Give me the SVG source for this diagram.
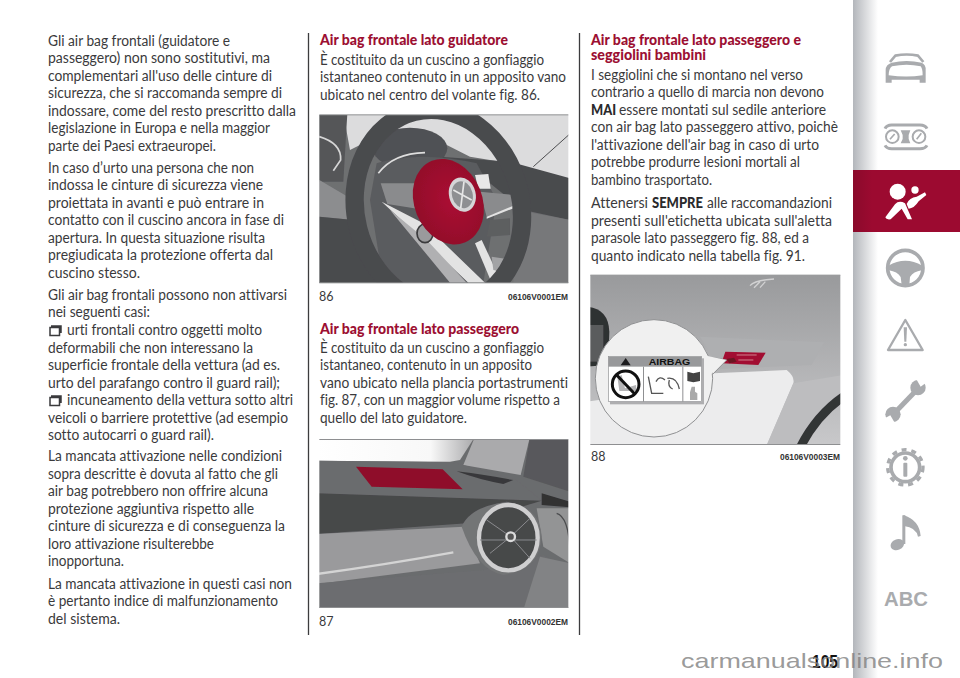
<svg xmlns="http://www.w3.org/2000/svg" width="960" height="678" viewBox="0 0 960 678">
<style>
text{font-family:"Lato","Open Sans","Noto Sans",sans-serif;font-variant-ligatures:none}
.b{font-size:15.5px;fill:#3a3a3c}
.h{font-size:15.5px;font-weight:900;fill:#9c0f32}
.m{font-size:15.5px;font-weight:900;fill:#2a2a2c}
.cap{font-size:12.5px;fill:#3a3a3c}
.code{font-family:"Liberation Sans",sans-serif;font-size:8.5px;font-weight:700;fill:#333}
.sep{stroke:#3c3c3e;stroke-width:1.3}
.ic{fill:#a9abae}
.is{fill:none;stroke:#a9abae}
.chk{fill:none;stroke:#3a3a3c;stroke-width:1.5}
</style>
<defs>
<linearGradient id="side" x1="0" x2="1" y1="0" y2="0"><stop offset="0" stop-color="#b3b6bb"/><stop offset="1" stop-color="#fff"/></linearGradient>
<linearGradient id="band" x1="0" x2="1" y1="0" y2="0"><stop offset="0" stop-color="#8a0a2b"/><stop offset=".18" stop-color="#9c0a30"/></linearGradient>
<linearGradient id="wind" x1="0" x2="1" y1="0" y2="0"><stop offset="0" stop-color="#fff"/><stop offset=".72" stop-color="#f8f8f8"/><stop offset="1" stop-color="#a8a8aa"/></linearGradient>
<linearGradient id="sky3" x1="0" x2="0" y1="0" y2="1"><stop offset="0" stop-color="#98999b"/><stop offset="1" stop-color="#c9c9cb"/></linearGradient>
<radialGradient id="redbag" cx=".55" cy=".5" r=".6"><stop offset="0" stop-color="#ab1032"/><stop offset="1" stop-color="#900d2a"/></radialGradient>
<filter id="soft" x="-5%" y="-5%" width="110%" height="110%"><feGaussianBlur stdDeviation="1.6"/></filter>
<clipPath id="c1"><rect x="28" y="45" width="747" height="504"/></clipPath>
<clipPath id="c2"><rect x="28" y="29" width="747" height="504"/></clipPath>
<clipPath id="c3"><rect x="31" y="31" width="750" height="507"/></clipPath>
</defs>
<rect width="960" height="678" fill="#fff"/>

<g id="sidebar">
<rect x="853" y="0" width="25" height="678" fill="url(#side)"/>
<rect x="853" y="170" width="107" height="62" fill="url(#band)"/>
<g id="icon-car" transform="translate(850 0) scale(.3333)">
<path class="is" stroke-width="8" d="M120 186L136 167Q170 160 204 167L220 186"/>
<path class="ic" d="M125 188Q170 178 215 188Q228 194 227 210V248H209V239H125V248H107V210Q107 194 125 188Z"/>
<path fill="#fff" d="M126 199Q170 190 212 199Q218 206 218 226Q170 233 116 226Q116 206 126 199Z"/>
</g>
<g id="icon-dash" transform="translate(850 0) scale(.3333)">
<path class="is" stroke-width="9" d="M105 386Q110 375 125 375H210Q226 375 231 386"/>
<path class="is" stroke-width="9" d="M105 436Q110 446 125 446H210Q226 446 231 436"/>
<circle class="is" stroke-width="6" cx="127" cy="410" r="19"/>
<circle class="is" stroke-width="6" cx="207" cy="410" r="19"/>
<path class="ic" d="M152 391H181L176 405V417L181 430H152L158 417V405Z"/>
<path class="is" stroke-width="5" d="M120 418L134 402M200 418L214 400"/>
</g>
<g id="icon-airbag" transform="translate(850 0) scale(.3333)" fill="#fff">
<circle cx="143" cy="575" r="24"/>
<circle cx="195" cy="570" r="11"/>
<path d="M106 652L135 613Q147 600 165 610L186 658L173 658L155 626L122 658Q108 660 106 652Z"/>
<path d="M170 612Q178 592 200 590L225 577L229 585L206 604Q192 626 176 626Z"/>
</g>
<g id="icon-wheel" transform="translate(850 235) scale(.3333)">
<circle class="is" stroke-width="11" cx="166" cy="99" r="53"/>
<path class="ic" d="M115 92Q166 62 217 92L215 106Q190 110 180 126L178 150H155L152 126Q142 110 117 106Z"/>
</g>
<g id="icon-warning" transform="translate(850 235) scale(.3333)">
<path class="is" stroke-width="7" stroke-linejoin="round" d="M166 255L218 345H114Z"/>
<path class="ic" d="M161 277H171L169 320H163Z"/>
<circle class="ic" cx="166" cy="329" r="5"/>
</g>
<g id="icon-wrench" transform="translate(850 235) scale(.3333)">
<path class="is" stroke-width="15" d="M130 538L200 465"/>
<circle class="ic" cx="204" cy="458" r="23"/>
<circle class="ic" cx="129" cy="538" r="23"/>
<path fill="#fff" d="M195 425L212 455L232 440V425Z"/>
<path fill="#fff" d="M100 552L121 541L138 570H100Z"/>
</g>
<g id="icon-info" transform="translate(850 440) scale(.3333)">
<circle class="is" stroke-width="11" cx="166" cy="82" r="43"/>
<circle class="is" stroke-width="10" cx="166" cy="82" r="53" stroke-dasharray="15 14.6"/>
<circle class="ic" cx="166" cy="55" r="7"/>
<rect class="ic" x="160" y="68" width="12" height="42" rx="3"/>
</g>
<g id="icon-music" transform="translate(850 440) scale(.3333)">
<ellipse class="ic" cx="142" cy="314" rx="21" ry="16" transform="rotate(-22 142 314)"/>
<rect class="ic" x="157" y="226" width="9" height="86"/>
<path class="ic" d="M160 225Q208 240 212 288L204 290Q198 262 162 258Z"/>
</g>
<text id="icon-abc" x="884" y="606" font-size="21" font-weight="700" textLength="44" lengthAdjust="spacingAndGlyphs" style="font-family:'Liberation Sans',sans-serif;fill:#a9abae">ABC</text>
</g>

<g id="separators">
<line class="sep" x1="308.500" y1="33" x2="308.500" y2="635"/>
<line class="sep" x1="579.500" y1="33" x2="579.500" y2="635"/>
</g>

<g id="col1">
<text class="b" x="48" y="46" textLength="182" lengthAdjust="spacingAndGlyphs">Gli air bag frontali (guidatore e</text>
<text class="b" x="48" y="63" textLength="222" lengthAdjust="spacingAndGlyphs">passeggero) non sono sostitutivi, ma</text>
<text class="b" x="48" y="81" textLength="224" lengthAdjust="spacingAndGlyphs">complementari all'uso delle cinture di</text>
<text class="b" x="48" y="98" textLength="234" lengthAdjust="spacingAndGlyphs">sicurezza, che si raccomanda sempre di</text>
<text class="b" x="48" y="116" textLength="248" lengthAdjust="spacingAndGlyphs">indossare, come del resto prescritto dalla</text>
<text class="b" x="48" y="133" textLength="222" lengthAdjust="spacingAndGlyphs">legislazione in Europa e nella maggior</text>
<text class="b" x="48" y="151" textLength="168" lengthAdjust="spacingAndGlyphs">parte dei Paesi extraeuropei.</text>
<text class="b" x="48" y="173" textLength="206" lengthAdjust="spacingAndGlyphs">In caso d’urto una persona che non</text>
<text class="b" x="48" y="190" textLength="215" lengthAdjust="spacingAndGlyphs">indossa le cinture di sicurezza viene</text>
<text class="b" x="48" y="208" textLength="216" lengthAdjust="spacingAndGlyphs">proiettata in avanti e può entrare in</text>
<text class="b" x="48" y="225" textLength="236" lengthAdjust="spacingAndGlyphs">contatto con il cuscino ancora in fase di</text>
<text class="b" x="48" y="243" textLength="217" lengthAdjust="spacingAndGlyphs">apertura. In questa situazione risulta</text>
<text class="b" x="48" y="260" textLength="225" lengthAdjust="spacingAndGlyphs">pregiudicata la protezione offerta dal</text>
<text class="b" x="48" y="278" textLength="92" lengthAdjust="spacingAndGlyphs">cuscino stesso.</text>
<text class="b" x="48" y="300" textLength="239" lengthAdjust="spacingAndGlyphs">Gli air bag frontali possono non attivarsi</text>
<text class="b" x="48" y="317" textLength="102" lengthAdjust="spacingAndGlyphs">nei seguenti casi:</text>
<path id="check1" class="chk" d="M50 327.500H59.500V335.500H50ZM51 326H61V333"/>
<text class="b" x="67" y="335" textLength="195" lengthAdjust="spacingAndGlyphs">urti frontali contro oggetti molto</text>
<text class="b" x="48" y="353" textLength="205" lengthAdjust="spacingAndGlyphs">deformabili che non interessano la</text>
<text class="b" x="48" y="370" textLength="232" lengthAdjust="spacingAndGlyphs">superficie frontale della vettura (ad es.</text>
<text class="b" x="48" y="388" textLength="232" lengthAdjust="spacingAndGlyphs">urto del parafango contro il guard rail);</text>
<path id="check2" class="chk" d="M50 397.500H59.500V405.500H50ZM51 396H61V403"/>
<text class="b" x="67" y="405" textLength="226" lengthAdjust="spacingAndGlyphs">incuneamento della vettura sotto altri</text>
<text class="b" x="48" y="423" textLength="240" lengthAdjust="spacingAndGlyphs">veicoli o barriere protettive (ad esempio</text>
<text class="b" x="48" y="440" textLength="166" lengthAdjust="spacingAndGlyphs">sotto autocarri o guard rail).</text>
<text class="b" x="48" y="461" textLength="234" lengthAdjust="spacingAndGlyphs">La mancata attivazione nelle condizioni</text>
<text class="b" x="48" y="479" textLength="230" lengthAdjust="spacingAndGlyphs">sopra descritte è dovuta al fatto che gli</text>
<text class="b" x="48" y="496" textLength="220" lengthAdjust="spacingAndGlyphs">air bag potrebbero non offrire alcuna</text>
<text class="b" x="48" y="514" textLength="206" lengthAdjust="spacingAndGlyphs">protezione aggiuntiva rispetto alle</text>
<text class="b" x="48" y="531" textLength="237" lengthAdjust="spacingAndGlyphs">cinture di sicurezza e di conseguenza la</text>
<text class="b" x="48" y="549" textLength="166" lengthAdjust="spacingAndGlyphs">loro attivazione risulterebbe</text>
<text class="b" x="48" y="566" textLength="76" lengthAdjust="spacingAndGlyphs">inopportuna.</text>
<text class="b" x="48" y="589" textLength="244" lengthAdjust="spacingAndGlyphs">La mancata attivazione in questi casi non</text>
<text class="b" x="48" y="606" textLength="230" lengthAdjust="spacingAndGlyphs">è pertanto indice di malfunzionamento</text>
<text class="b" x="48" y="624" textLength="72" lengthAdjust="spacingAndGlyphs">del sistema.</text>
</g>

<g id="col2">
<text class="h" x="320" y="45" textLength="188" lengthAdjust="spacingAndGlyphs">Air bag frontale lato guidatore</text>
<text class="b" x="320" y="65" textLength="224" lengthAdjust="spacingAndGlyphs">È costituito da un cuscino a gonfiaggio</text>
<text class="b" x="320" y="82" textLength="246" lengthAdjust="spacingAndGlyphs">istantaneo contenuto in un apposito vano</text>
<text class="b" x="320" y="100" textLength="220" lengthAdjust="spacingAndGlyphs">ubicato nel centro del volante fig. 86.</text>
<text class="h" x="320" y="334" textLength="199" lengthAdjust="spacingAndGlyphs">Air bag frontale lato passeggero</text>
<text class="b" x="320" y="353" textLength="224" lengthAdjust="spacingAndGlyphs">È costituito da un cuscino a gonfiaggio</text>
<text class="b" x="320" y="370" textLength="212" lengthAdjust="spacingAndGlyphs">istantaneo, contenuto in un apposito</text>
<text class="b" x="320" y="388" textLength="248" lengthAdjust="spacingAndGlyphs">vano ubicato nella plancia portastrumenti</text>
<text class="b" x="320" y="405" textLength="240" lengthAdjust="spacingAndGlyphs">fig. 87, con un maggior volume rispetto a</text>
<text class="b" x="320" y="423" textLength="147" lengthAdjust="spacingAndGlyphs">quello del lato guidatore.</text>
<text class="cap" x="319" y="301">86</text>
<text class="code" x="508" y="300" textLength="60" lengthAdjust="spacingAndGlyphs">06106V0001EM</text>
<text class="cap" x="319" y="626">87</text>
<text class="code" x="508" y="625" textLength="60" lengthAdjust="spacingAndGlyphs">06106V0002EM</text>
</g>

<g id="col3">
<text class="h" x="591" y="45" textLength="210" lengthAdjust="spacingAndGlyphs">Air bag frontale lato passeggero e</text>
<text class="h" x="591" y="60" textLength="115" lengthAdjust="spacingAndGlyphs">seggiolini bambini</text>
<text class="b" x="591" y="80" textLength="212" lengthAdjust="spacingAndGlyphs">I seggiolini che si montano nel verso</text>
<text class="b" x="591" y="97" textLength="233" lengthAdjust="spacingAndGlyphs">contrario a quello di marcia non devono</text>
<text class="m" x="591" y="115" textLength="25" lengthAdjust="spacingAndGlyphs">MAI</text>
<text class="b" x="619" y="115" textLength="207" lengthAdjust="spacingAndGlyphs">essere montati sul sedile anteriore</text>
<text class="b" x="591" y="132" textLength="247" lengthAdjust="spacingAndGlyphs">con air bag lato passeggero attivo, poichè</text>
<text class="b" x="591" y="150" textLength="228" lengthAdjust="spacingAndGlyphs">l'attivazione dell'air bag in caso di urto</text>
<text class="b" x="591" y="167" textLength="209" lengthAdjust="spacingAndGlyphs">potrebbe produrre lesioni mortali al</text>
<text class="b" x="591" y="185" textLength="121" lengthAdjust="spacingAndGlyphs">bambino trasportato.</text>
<text class="b" x="591" y="208" textLength="57" lengthAdjust="spacingAndGlyphs">Attenersi</text>
<text class="m" x="652" y="208" textLength="51" lengthAdjust="spacingAndGlyphs">SEMPRE</text>
<text class="b" x="707" y="208" textLength="125" lengthAdjust="spacingAndGlyphs">alle raccomandazioni</text>
<text class="b" x="591" y="226" textLength="241" lengthAdjust="spacingAndGlyphs">presenti sull'etichetta ubicata sull'aletta</text>
<text class="b" x="591" y="243" textLength="218" lengthAdjust="spacingAndGlyphs">parasole lato passeggero fig. 88, ed a</text>
<text class="b" x="591" y="261" textLength="214" lengthAdjust="spacingAndGlyphs">quanto indicato nella tabella fig. 91.</text>
<text class="cap" x="591" y="461">88</text>
<text class="code" x="780" y="460" textLength="60" lengthAdjust="spacingAndGlyphs">06106V0003EM</text>
</g>

<g id="fig86" transform="translate(310 100) scale(.33333)">
<g clip-path="url(#c1)"><g filter="url(#soft)">
<rect x="20" y="40" width="760" height="515" fill="#6e6f71"/>
<path fill="#dcdcdd" d="M100 40H780V240L600 190L480 170L400 130L220 100L120 150Z"/>
<path fill="#555659" d="M20 40H112L100 245H20Z"/>
<path fill="none" stroke="#d6d6d6" stroke-width="5" d="M28 110Q95 130 92 180L70 212"/>
<path fill="#8c8d8f" d="M28 240L130 300V360L28 350Z"/>
<path fill="#4a4b4e" d="M28 350L130 360L210 470L210 548H28Z"/>
<path fill="#4a4b4e" d="M390 170L600 185L780 235V360L640 330L540 250Z"/>
<path fill="#77787a" d="M620 330L780 360V548H610Z"/>
<path fill="none" stroke="#4c4d4f" stroke-width="3" d="M670 200L778 103"/>
<ellipse cx="300" cy="145" rx="112" ry="62" fill="#505154"/>
<path fill="#5a5b5e" d="M200 190Q330 150 500 190L560 300L520 548H220L180 300Z"/>
<path fill="none" stroke="#dedede" stroke-width="5" d="M205 220Q250 160 345 158"/>
<path fill="#8a8b8d" d="M212 250L320 250L345 330L232 312Z"/>
<path fill="#8a8b8d" d="M510 275L610 285L625 315L530 350Z"/>
<path fill="#e3e3e3" d="M215 305L340 370L525 548H475L350 430Z"/>
<path fill="#b0b0b2" d="M240 330L350 420L470 548H420Z"/>
<path fill="#e3e3e3" d="M530 350L628 310L628 318L530 356Z"/>
<path fill="#e3e3e3" d="M515 420L575 548H545L495 430Z"/>
<path fill="#e8e8e8" d="M495 225L535 222L542 266L505 266Z"/>
<path fill="#5d5e60" d="M540 360L600 355L600 405L530 410Z"/>
<ellipse cx="345" cy="400" rx="24" ry="28" fill="#9a9a9c" stroke="#3a3a3c" stroke-width="5"/>
<path fill="#a2a3a5" d="M545 470L610 480L600 520L550 510Z"/>
<ellipse cx="385" cy="325" rx="248" ry="298" fill="none" stroke="#4a4b4e" stroke-width="55" transform="rotate(-14 385 325)"/>
<ellipse cx="415" cy="305" rx="102" ry="132" fill="url(#redbag)" transform="rotate(-22 415 305)"/>
<ellipse cx="457" cy="284" rx="40" ry="52" fill="#d5d5d7" transform="rotate(-14 457 284)"/>
<ellipse cx="457" cy="284" rx="31" ry="41" fill="#8e8f92" transform="rotate(-14 457 284)"/>
<path stroke="#e6e6e6" stroke-width="5" d="M430 270L485 300M462 245L452 325"/>
</g></g>
<rect x="28" y="43" width="747" height="3" fill="#8e8f91"/>
<rect x="28" y="547" width="747" height="3" fill="#8e8f91"/>
</g>

<g id="fig87" transform="translate(310 430) scale(.33333)">
<g clip-path="url(#c2)"><g filter="url(#soft)">
<rect x="20" y="20" width="770" height="520" fill="#6b6c6e"/>
<path fill="url(#wind)" d="M20 20H495L450 90L420 95L20 92Z"/>
<path fill="#aaaaac" d="M495 20H660L632 135L460 105Z"/>
<path fill="#58595b" d="M660 20H780V185L640 140Z"/>
<path fill="#6b6c6e" d="M20 92L420 97L460 105L620 150L695 212L20 195Z"/>
<path fill="#38393b" d="M440 124Q530 135 610 150L580 162Q510 150 440 124Z"/>
<path fill="#8f0e2a" d="M138 110L398 118L458 178L185 170Z"/>
<path fill="#47484a" d="M20 190L695 212L470 280L20 312Z"/>
<path fill="#303133" d="M695 190L780 215V232L695 225Z"/>
<path fill="#939495" d="M680 235L780 235V400L700 350Z"/>
<path fill="#9a9a9c" d="M20 312L462 290L510 400L20 462Z"/>
<path fill="none" stroke="#d4d4d4" stroke-width="7" d="M20 432Q220 405 430 367"/>
<path fill="#6c6d6f" d="M20 460L520 420L700 375L780 420V540H20Z"/>
<path fill="#828385" d="M690 380L780 400V540H640Z"/>
<path fill="none" stroke="#4c4d4f" stroke-width="4" d="M740 250Q775 260 780 360"/>
<path fill="#737476" d="M455 290Q480 230 590 215Q690 230 695 320Q690 420 580 435Q500 420 455 290Z"/>
<ellipse cx="595" cy="323" rx="88" ry="98" fill="#47484a" stroke="#cfcfd0" stroke-width="13"/>
<path fill="none" stroke="#8a8b8d" stroke-width="3" d="M530 270L602 320M660 265L602 320M540 370L602 320M660 385L602 320M510 330H680"/>
<circle cx="602" cy="320" r="13" fill="#555" stroke="#dcdcdc" stroke-width="7"/>
</g></g>
<rect x="28" y="27" width="747" height="3" fill="#8e8f91"/>
<rect x="28" y="531" width="747" height="3" fill="#8e8f91"/>
</g>

<g id="fig88" transform="translate(580 265) scale(.33333)">
<g clip-path="url(#c3)"><g filter="url(#soft)">
<rect x="20" y="20" width="770" height="530" fill="url(#sky3)"/>
<path fill="none" stroke="#d2d2d3" stroke-width="4" d="M510 62Q525 45 582 42M522 68L540 50M540 68L556 50"/>
<path fill="#2f3032" d="M20 125Q85 130 88 200L85 300L20 305Z"/>
<rect x="30" y="180" width="40" height="110" fill="#5a5b5d"/>
<path fill="#aeafb1" d="M360 215L732 232L695 300L420 312Z"/>
<path fill="#ececed" d="M400 325L620 315Q645 335 640 355L558 545H20V410L230 380Z"/>
<path fill="#bdbdbf" d="M640 355L790 330V400L660 545H558Z"/>
<path fill="none" stroke="#333436" stroke-width="26" d="M660 548Q710 450 790 395"/>
<path fill="#a20f31" d="M436 260L557 263L535 300L424 295Z"/>
<path fill="#6a1424" d="M440 282L462 278L470 290L448 295Z"/>
<path fill="none" stroke="#d08090" stroke-width="3" d="M470 270H530M475 285H520"/>
</g>
<path fill="#f0f0f0" stroke="#8f9092" stroke-width="3" d="M388 276L440 285L396 330"/>
<circle cx="222" cy="340" r="176" fill="#f0f0f0" stroke="#8f9092" stroke-width="3"/>
<path fill="#f0f0f0" d="M370 270L438 285L385 335Z"/>
<rect x="90" y="280" width="282" height="138" fill="#aeaeb0"/>
<rect x="85" y="275" width="280" height="135" fill="#fff" stroke="#8f9092" stroke-width="2"/>
<rect x="85" y="275" width="280" height="30" fill="#98999b"/>
<path fill="#1c1c1e" d="M137 279L152 301H122Z"/>
<rect x="189" y="305" width="3" height="105" fill="#8f9092"/>
<rect x="307" y="305" width="3" height="105" fill="#8f9092"/>
<path fill="#b5b5b7" d="M112 335L125 330L135 370L168 360L170 378H118Z"/>
<circle cx="137" cy="358" r="40" fill="none" stroke="#111" stroke-width="9"/>
<path stroke="#111" stroke-width="9" d="M110 330L165 388"/>
<path fill="none" stroke="#555" stroke-width="4" d="M205 335L215 385H250M228 350Q238 330 255 345M262 340Q290 335 298 372M268 345Q262 365 278 372"/>
<path fill="#444" d="M322 320L340 325L360 320V348L340 352L322 348Z"/>
<path fill="#aaa" d="M335 365H345V380L352 385V405H330V382Z"/>
</g>
<text x="206" y="299" font-size="29" font-weight="700" textLength="125" lengthAdjust="spacingAndGlyphs" style="font-family:'Liberation Sans',sans-serif;fill:#111">AIRBAG</text>
<rect x="31" y="29" width="750" height="3" fill="#8e8f91"/>
<rect x="31" y="537" width="750" height="3" fill="#8e8f91"/>
</g>

<text id="page-number" x="812" y="668" font-size="18" font-weight="700" textLength="26" lengthAdjust="spacingAndGlyphs" style="font-family:'Liberation Sans',sans-serif;fill:#111">105</text>
<text id="watermark" x="681" y="668" font-size="21" textLength="262" lengthAdjust="spacingAndGlyphs" fill-opacity=".8" style="font-family:'Liberation Sans',sans-serif;fill:#808080">carmanualsonline.info</text>
</svg>
